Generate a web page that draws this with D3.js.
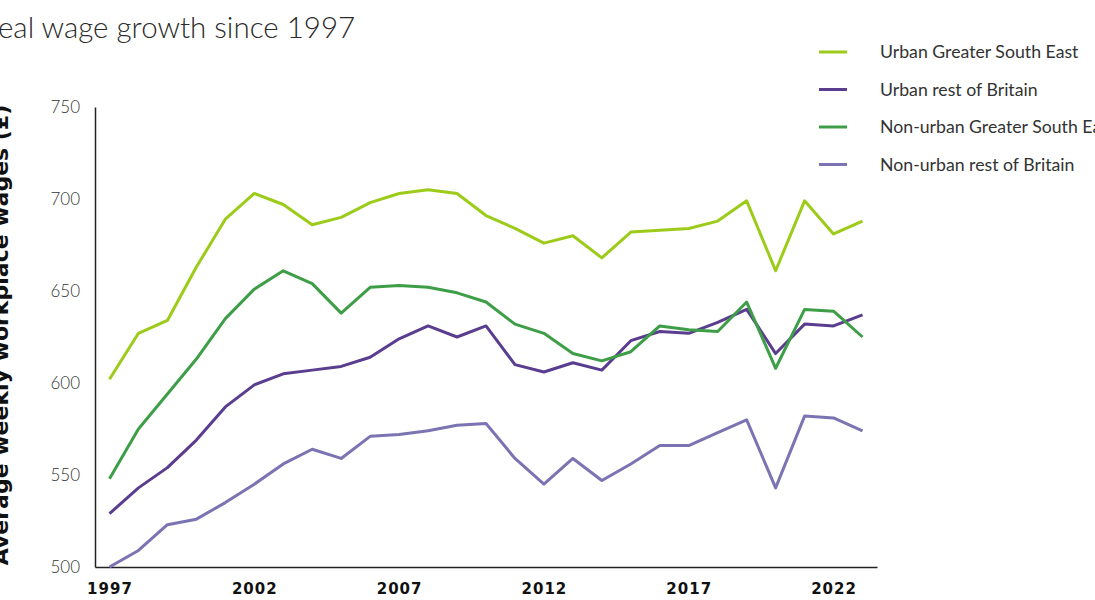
<!DOCTYPE html>
<html>
<head>
<meta charset="utf-8">
<script src="https://cdn.jsdelivr.net/npm/d3@7"></script>
<style>
	body { margin: 0; background: #fff; }
	svg { display: block; }
</style>
</head>
<body>
<svg id="chart" width="1095" height="600"></svg>
<script>
// data
const years = d3.range(1997, 2024);
const tickYears = [1997, 2002, 2007, 2012, 2017, 2022];
const yTicks = [500, 550, 600, 650, 700, 750];

const urbanGSE = [602, 627, 634, 663, 689, 703, 697, 686, 690, 698, 703, 705, 703, 691, 684, 676, 680, 668, 682, 683, 684, 688, 699, 661, 699, 681, 688];
const urbanRest = [529, 543, 554, 569, 587, 599, 605, 607, 609, 614, 624, 631, 625, 631, 610, 606, 611, 607, 623, 628, 627, 633, 640, 616, 632, 631, 637];
const nonUrbanGSE = [548, 575, 594, 613, 635, 651, 661, 654, 638, 652, 653, 652, 649, 644, 632, 627, 616, 612, 617, 631, 629, 628, 644, 608, 640, 639, 625];
const nonUrbanRest = [500, 509, 523, 526, 535, 545, 556, 564, 559, 571, 572, 574, 577, 578, 559, 545, 559, 547, 556, 566, 566, 573, 580, 543, 582, 581, 574];

const seriesNames = ['Urban Greater South East', 'Urban rest of Britain', 'Non-urban Greater South East', 'Non-urban rest of Britain'];
const seriesColors = ['#9ccb19', '#5a3d8e', '#3e9e48', '#7b73b2'];
const seriesValues = [urbanGSE, urbanRest, nonUrbanGSE, nonUrbanRest];

const svg = d3.select('#chart');
const margin = {top: 107, left: 95};
const width = 782, height = 460;

const g = svg.append('g').attr('transform', 'translate(' + margin.left + ',' + margin.top + ')');

const x = d3.scaleLinear().domain([1996.5, 2023.5]).range([0, width]);
const y = d3.scaleLinear().domain([500, 750]).range([height, 0]);

// title, pushed partly off the left edge like the source
svg.append('text')
	.attr('x', -19)
	.attr('y', 38)
	.style('font-family', 'Lato, sans-serif')
	.style('font-weight', 300)
	.style('font-size', '29.5px')
	.attr('fill', '#2b2b2b')
	.text('Real wage growth since 1997');

svg.append('text')
	.attr('transform', 'translate(8,335) rotate(-90)')
	.style('text-anchor', 'middle')
	.style('font-family', '"DejaVu Sans", sans-serif')
	.style('font-weight', 'bold')
	.style('font-size', '22px')
	.attr('fill', '#111')
	.text('Average weekly workplace wages (£)');

// y axis
const yAxis = g.append('g')
	.call(d3.axisLeft(y).tickValues(yTicks).tickSize(0).tickPadding(15));
yAxis.select('.domain').attr('stroke', '#222').attr('stroke-width', 1.5);
yAxis.selectAll('text')
	.style('font-family', 'Lato, sans-serif')
	.style('font-weight', 300)
	.style('font-size', '17px')
	.attr('fill', '#333');

// x axis
const xAxis = g.append('g')
	.attr('transform', 'translate(0,' + height + ')')
	.call(d3.axisBottom(x).tickValues(tickYears).tickFormat(d3.format('d')).tickSize(0).tickPadding(16));
xAxis.select('.domain').attr('stroke', '#222').attr('stroke-width', 1.5);
xAxis.selectAll('text')
	.style('font-family', '"DejaVu Sans", sans-serif')
	.style('font-weight', 'bold')
	.style('font-size', '15px')
	.style('letter-spacing', '1px')
	.attr('fill', '#111');

// lines
const line = d3.line().x((d, i) => x(years[i])).y(d => y(d));
seriesValues.forEach((vals, k) => {
	g.append('path')
		.attr('d', line(vals))
		.attr('fill', 'none')
		.attr('stroke', seriesColors[k])
		.attr('stroke-width', 3)
		.attr('stroke-linejoin', 'round');
});

// legend
const legend = svg.append('g');
seriesNames.forEach((name, k) => {
	const ly = 52 + k * 37.5;
	legend.append('line')
		.attr('x1', 819).attr('x2', 847)
		.attr('y1', ly).attr('y2', ly)
		.attr('stroke', seriesColors[k])
		.attr('stroke-width', 3);
	legend.append('text')
		.attr('x', 880)
		.attr('y', ly + 6)
		.style('font-family', 'Lato, sans-serif')
		.style('font-size', '17.7px')
		.attr('fill', '#333')
		.text(name);
});
</script>
</body>
</html>
